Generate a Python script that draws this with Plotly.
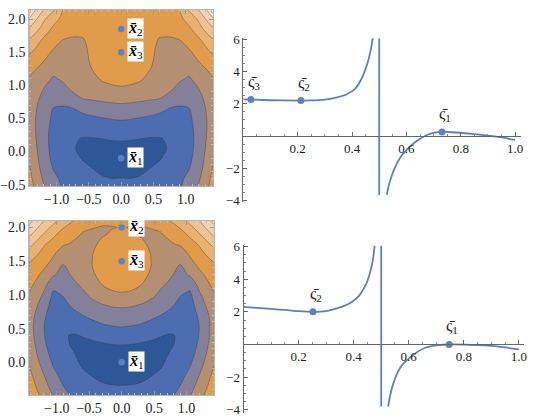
import plotly.graph_objects as go

# ---------------- data ----------------
# contour fields (level index), half grid x >= 0, mirrored to x < 0
grid_x_half = [0.0, 0.15, 0.3, 0.45, 0.6, 0.75, 0.9, 1.05, 1.2, 1.42]

tl_y = [-0.52, -0.4, -0.25, -0.1, 0.05, 0.2, 0.35, 0.5, 0.65, 0.8, 0.95,
        1.1, 1.25, 1.4, 1.55, 1.7, 1.85, 2.0, 2.14]
tl_z_half = [
    [1.30, 1.28, 1.35, 1.45, 1.60, 1.72, 1.90, 2.35, 3.05, 4.40],
    [1.00, 0.98, 1.10, 1.25, 1.45, 1.60, 1.80, 2.20, 2.85, 4.25],
    [0.55, 0.55, 0.72, 1.00, 1.20, 1.42, 1.65, 1.95, 2.60, 4.06],
    [0.25, 0.28, 0.45, 0.70, 0.95, 1.22, 1.50, 1.78, 2.45, 3.88],
    [0.60, 0.60, 0.65, 0.72, 0.82, 1.08, 1.40, 1.68, 2.38, 3.70],
    [1.15, 1.12, 1.02, 0.97, 0.97, 1.10, 1.38, 1.65, 2.35, 3.56],
    [1.65, 1.62, 1.50, 1.40, 1.40, 1.35, 1.45, 1.70, 2.38, 3.46],
    [2.07, 2.04, 1.95, 1.85, 1.78, 1.70, 1.65, 1.82, 2.45, 3.42],
    [2.70, 2.66, 2.52, 2.40, 2.20, 1.97, 1.90, 1.98, 2.58, 3.45],
    [3.30, 3.25, 3.20, 3.10, 3.00, 2.60, 2.30, 2.30, 2.75, 3.55],
    [3.90, 3.82, 3.68, 3.45, 3.30, 3.20, 2.72, 2.60, 3.00, 3.72],
    [4.30, 4.25, 4.10, 3.72, 3.45, 3.40, 3.15, 2.90, 3.35, 3.92],
    [4.50, 4.45, 4.35, 4.02, 3.60, 3.52, 3.40, 3.30, 3.70, 4.30],
    [4.62, 4.57, 4.45, 4.15, 3.72, 3.62, 3.55, 3.62, 4.10, 4.75],
    [4.65, 4.60, 4.50, 4.20, 3.80, 3.72, 3.72, 4.00, 4.50, 5.30],
    [4.55, 4.52, 4.45, 4.22, 3.95, 3.92, 4.02, 4.45, 4.90, 6.00],
    [4.45, 4.45, 4.45, 4.35, 4.30, 4.30, 4.45, 4.80, 5.60, 6.88],
    [4.50, 4.52, 4.55, 4.55, 4.55, 4.62, 4.75, 5.35, 6.15, 7.88],
    [4.60, 4.62, 4.65, 4.68, 4.72, 4.82, 5.00, 6.10, 7.00, 8.80],
]

bl_y = [-0.5, -0.35, -0.2, -0.05, 0.1, 0.25, 0.4, 0.55, 0.7, 0.85, 1.0,
        1.15, 1.3, 1.45, 1.6, 1.75, 1.9, 2.0, 2.1]
bl_z_half = [
    [1.30, 1.32, 1.38, 1.50, 1.65, 1.88, 2.30, 2.95, 3.70, 4.75],
    [1.02, 1.04, 1.10, 1.22, 1.40, 1.65, 2.00, 2.60, 3.35, 4.50],
    [0.65, 0.68, 0.80, 0.98, 1.15, 1.45, 1.75, 2.25, 3.05, 4.25],
    [0.32, 0.36, 0.48, 0.70, 0.93, 1.25, 1.50, 1.95, 2.70, 4.00],
    [0.45, 0.48, 0.55, 0.66, 0.80, 1.08, 1.30, 1.70, 2.40, 3.75],
    [0.97, 0.95, 0.88, 0.85, 0.86, 0.93, 1.15, 1.50, 2.20, 3.55],
    [1.55, 1.50, 1.35, 1.15, 1.03, 0.95, 1.07, 1.40, 2.06, 3.42],
    [2.10, 2.03, 1.93, 1.75, 1.55, 1.30, 1.10, 1.35, 2.04, 3.38],
    [2.60, 2.55, 2.40, 2.22, 2.00, 1.75, 1.35, 1.40, 2.20, 3.45],
    [3.15, 3.10, 2.95, 2.73, 2.40, 2.15, 1.75, 1.55, 2.55, 3.65],
    [3.88, 3.80, 3.50, 3.20, 2.80, 2.50, 2.05, 1.80, 2.88, 3.90],
    [4.30, 4.25, 4.00, 3.60, 3.15, 2.80, 2.40, 2.30, 3.30, 4.25],
    [4.50, 4.45, 4.28, 3.88, 3.45, 3.12, 2.70, 3.10, 3.75, 4.60],
    [4.63, 4.57, 4.40, 4.02, 3.60, 3.40, 3.00, 3.60, 4.25, 4.88],
    [4.60, 4.55, 4.35, 3.99, 3.65, 3.60, 3.35, 4.10, 4.65, 5.50],
    [4.42, 4.38, 4.18, 3.85, 3.72, 3.88, 4.10, 4.60, 5.10, 6.30],
    [4.12, 4.08, 3.92, 3.85, 3.93, 4.25, 4.60, 5.20, 5.95, 7.20],
    [4.03, 3.97, 3.95, 4.03, 4.15, 4.60, 5.05, 5.70, 6.50, 7.75],
    [4.15, 4.12, 4.15, 4.30, 4.45, 5.02, 5.50, 6.30, 7.00, 8.30],
]
tl_pts_y = [-0.1, 1.85, 1.5]     # x1, x2, x3 (all at x = 0)
bl_pts_y = [0.0, 2.0, 1.5]
pt_names = ["1", "2", "3"]

# dual curves: left branch, right branch, stationary points
tr_left_s = [0.0, 0.028, 0.1, 0.2, 0.25, 0.3, 0.34, 0.377, 0.413, 0.438, 0.456, 0.468, 0.476]
tr_left_v = [2.27, 2.26, 2.22, 2.20, 2.21, 2.26, 2.38, 2.56, 2.96, 3.66, 4.46, 5.26, 6.05]
tr_right_s = [0.528, 0.537, 0.553, 0.577, 0.607, 0.643, 0.68, 0.70, 0.731, 0.77, 0.84, 0.90, 0.95, 1.0]
tr_right_v = [-3.64, -2.94, -2.14, -1.34, -0.74, -0.24, 0.10, 0.20, 0.26, 0.24, 0.14, 0.03, -0.08, -0.24]
tr_pole = [0.5, 6.05, -3.64]
tr_pts_s = [0.731, 0.212, 0.028]
tr_pts_v = [0.26, 2.20, 2.26]
tr_pts_lab = ["1", "2", "3"]

br_left_s = [0.0, 0.05, 0.1, 0.16, 0.2, 0.252, 0.3, 0.336, 0.37, 0.396, 0.42, 0.432, 0.445, 0.456, 0.465, 0.47, 0.476]
br_left_v = [2.30, 2.24, 2.18, 2.10, 2.04, 2.00, 2.05, 2.20, 2.40, 2.64, 3.00, 3.30, 3.70, 4.20, 4.80, 5.20, 6.05]
br_right_s = [0.525, 0.54, 0.57, 0.612, 0.66, 0.707, 0.747, 0.80, 0.875, 0.95, 1.0]
br_right_v = [-3.80, -2.60, -1.40, -0.70, -0.20, -0.04, 0.0, -0.01, -0.06, -0.18, -0.30]
br_pole = [0.5, 6.05, -3.80]
br_pts_s = [0.747, 0.252]
br_pts_v = [0.0, 2.0]
br_pts_lab = ["1", "2"]

# ---------------- style ----------------
W, H = 534, 420
FONT = "Liberation Serif, DejaVu Serif, Times New Roman, serif"
band_colors = ["#2d5797", "#4c6daf", "#85809a", "#b48f72", "#e09c4a",
               "#e8b170", "#eec493", "#f2d4b0", "#f6e3c9"]
LINE = "#5e81b5"
PT = "#5b82c4"

def full_grid(zh):
    return [row[:0:-1] + row for row in zh]

xs_full = [-v for v in grid_x_half[:0:-1]] + grid_x_half

n = len(band_colors)
cscale = [[i / (n - 1), c] for i, c in enumerate(band_colors)]

fig = go.Figure()

for (yy, zh, xa, ya) in [(tl_y, tl_z_half, "x", "y"), (bl_y, bl_z_half, "x3", "y3")]:
    fig.add_trace(go.Contour(
        x=xs_full, y=yy, z=full_grid(zh), xaxis=xa, yaxis=ya,
        autocontour=False, contours=dict(start=1, end=8, size=1, coloring="fill"),
        colorscale=cscale, showscale=False,
        line=dict(color="rgba(60,50,50,0.45)", width=0.8, smoothing=1.0),
        hoverinfo="skip"))

# invisible helpers so the frame-tick overlay axes are drawn
for xa, ya in [("x5", "y"), ("x", "y5"), ("x6", "y3"), ("x3", "y6")]:
    fig.add_trace(go.Scatter(x=[0], y=[0.5], xaxis=xa, yaxis=ya, mode="markers",
                             marker=dict(opacity=0, size=1), showlegend=False, hoverinfo="skip"))

for (pys, xa, ya) in [(tl_pts_y, "x", "y"), (bl_pts_y, "x3", "y3")]:
    fig.add_trace(go.Scatter(x=[0, 0, 0], y=pys, mode="markers", xaxis=xa, yaxis=ya,
                             marker=dict(color=PT, size=6.5), showlegend=False))
    for yv, nm in zip(pys, pt_names):
        fig.add_annotation(x=0, y=yv, xref=xa, yref=ya, xanchor="left", yanchor="middle",
                           xshift=6, yshift=1,
                           text="<b><i>x\u0304</i></b><sub>%s</sub>" % nm, showarrow=False,
                           bgcolor="white", borderpad=0,
                           font=dict(family=FONT, size=16, color="black"))

for (ls, lv, rs, rv, pole, ps, pv, plab, xa, ya) in [
        (tr_left_s, tr_left_v, tr_right_s, tr_right_v, tr_pole, tr_pts_s, tr_pts_v, tr_pts_lab, "x2", "y2"),
        (br_left_s, br_left_v, br_right_s, br_right_v, br_pole, br_pts_s, br_pts_v, br_pts_lab, "x4", "y4")]:
    for sx, sv in [(ls, lv), (rs, rv)]:
        fig.add_trace(go.Scatter(x=sx, y=sv, mode="lines", xaxis=xa, yaxis=ya,
                                 line=dict(color=LINE, width=1.8, shape="spline", smoothing=0.8),
                                 showlegend=False, hoverinfo="skip"))
    fig.add_trace(go.Scatter(x=[pole[0], pole[0]], y=[pole[1], pole[2]], mode="lines",
                             xaxis=xa, yaxis=ya, line=dict(color=LINE, width=1.8),
                             showlegend=False, hoverinfo="skip"))
    fig.add_trace(go.Scatter(x=ps, y=pv, mode="markers", xaxis=xa, yaxis=ya,
                             marker=dict(color=PT, size=7), showlegend=False))
    for sx, sv, lab in zip(ps, pv, plab):
        fig.add_annotation(x=sx, y=sv, xref=xa, yref=ya, xanchor="center", yanchor="bottom",
                           yshift=6, xshift=3, text="\u03c2\u0304<sub>%s</sub>" % lab, showarrow=False,
                           font=dict(family=FONT, size=16, color="#222"))

def px_x(a, b):
    return [a / W, b / W]

def px_y(top, bottom):
    return [1 - bottom / H, 1 - top / H]

tick_font = dict(family=FONT, size=14, color="#222")
frame = dict(showline=True, linecolor="#b5b5b5", linewidth=1, mirror=True,
             ticks="inside", ticklen=4, tickcolor="#999", showgrid=False, zeroline=False,
             tickfont=tick_font,
             minor=dict(ticks="inside", ticklen=2, tickcolor="#bbb", dtick=0.1))

lay = dict(width=W, height=H, margin=dict(l=0, r=0, t=0, b=0),
           paper_bgcolor="white", plot_bgcolor="white", showlegend=False)

xt_vals = [-1, -0.5, 0, 0.5, 1]
xt_text = ["\u22121.0", "\u22120.5", "0.0", "0.5", "1.0"]
yt_vals = [-0.5, 0, 0.5, 1, 1.5, 2]
yt_text = ["\u22120.5", "0.0", "0.5", "1.0", "1.5", "2.0"]

tl_xr, tl_yr = [-1.42, 1.42], [-0.52, 2.14]
bl_xr, bl_yr = [-1.42, 1.42], [-0.49, 2.1]

lay["xaxis"] = dict(domain=px_x(26.7, 212.3), range=tl_xr, anchor="y",
                    tickvals=xt_vals, ticktext=xt_text, **frame)
lay["yaxis"] = dict(domain=px_y(4, 185.7), range=tl_yr, anchor="x",
                    tickvals=yt_vals, ticktext=yt_text, **frame)
lay["xaxis3"] = dict(domain=px_x(26.7, 213.3), range=bl_xr, anchor="y3",
                     tickvals=xt_vals, ticktext=xt_text, **frame)
lay["yaxis3"] = dict(domain=px_y(221.7, 401.7), range=bl_yr, anchor="x3",
                     tickvals=yt_vals, ticktext=yt_text, **frame)

# top / right frame ticks (no labels)
def frame_overlay(over, anchor, side, rng, vals):
    return dict(overlaying=over, anchor=anchor, side=side, range=rng, tickvals=vals,
                showticklabels=False, ticks="inside", ticklen=4, tickcolor="#999",
                showline=False, showgrid=False, zeroline=False,
                minor=dict(ticks="inside", ticklen=2, tickcolor="#bbb", dtick=0.1))

lay["xaxis5"] = frame_overlay("x", "y", "top", tl_xr, xt_vals)
lay["yaxis5"] = frame_overlay("y", "x", "right", tl_yr, yt_vals)
lay["xaxis6"] = frame_overlay("x3", "y3", "top", bl_xr, xt_vals)
lay["yaxis6"] = frame_overlay("y3", "x3", "right", bl_yr, yt_vals)

rtick = dict(family=FONT, size=13, color="#222")

def right_axes(xd, yd, yr):
    pos = yd[0] + (0 - yr[0]) / (yr[1] - yr[0]) * (yd[1] - yd[0])
    xa = dict(domain=xd, range=[0, 1.02], anchor="free", position=pos,
              showline=True, linecolor="#666", linewidth=1, showgrid=False, zeroline=False,
              ticks="inside", ticklen=4, tickcolor="#666", tickvals=[0.2, 0.4, 0.6, 0.8, 1.0],
              ticktext=["0.2", "0.4", "0.6", "0.8", "1.0"], tickfont=rtick,
              minor=dict(ticks="inside", ticklen=2, tickcolor="#888", tickmode="array",
                         tickvals=[0.05, 0.1, 0.15, 0.25, 0.3, 0.35, 0.45, 0.5, 0.55,
                                   0.65, 0.7, 0.75, 0.85, 0.9, 0.95]))
    ya = dict(domain=yd, range=yr, showline=True, linecolor="#666", linewidth=1,
              showgrid=False, zeroline=False, ticks="inside", ticklen=4, tickcolor="#666",
              tickvals=[-4, -2, 2, 4, 6], ticktext=["\u22124", "\u22122", "2", "4", "6"],
              tickfont=rtick,
              minor=dict(ticks="inside", ticklen=2, tickcolor="#888", tickmode="array",
                         tickvals=[-3.5, -3, -2.5, -1.5, -1, -0.5, 0.5, 1, 1.5, 2.5, 3, 3.5,
                                   4.5, 5, 5.5]))
    return xa, ya

tr_xd = px_x(243, 523.5)
tr_yd = px_y(32.6, 202.6)
br_xd = px_x(243.3, 527.3)
br_yd = px_y(246.6, 420)
xa2, ya2 = right_axes(tr_xd, tr_yd, [-4.1, 6.1])
xa4, ya4 = right_axes(br_xd, br_yd, [-4.2, 6.1])
ya2["anchor"] = "x2"
ya4["anchor"] = "x4"
lay["xaxis2"] = xa2
lay["yaxis2"] = ya2
lay["xaxis4"] = xa4
lay["yaxis4"] = ya4

fig.update_layout(**lay)
fig.write_html("out.html")
